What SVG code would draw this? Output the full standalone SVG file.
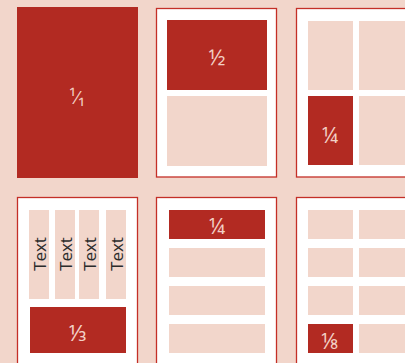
<svg xmlns="http://www.w3.org/2000/svg" width="405" height="363" viewBox="0 0 405 363">
<style>
.page{fill:#fff;stroke:#c42f27;stroke-width:1.3}
.red{fill:#b22a22}
.lt{fill:#f2d6cb}
.frac{font-family:"Open Sans","Noto Sans",sans-serif;font-size:22px;fill:#f2d0c6;text-anchor:middle;dominant-baseline:central}
.sup{font-family:"Open Sans","Noto Sans",sans-serif;font-size:19px;fill:#f2d0c6;text-anchor:middle;dominant-baseline:central}
.txt{font-family:"Open Sans","Noto Sans",sans-serif;font-size:17px;fill:#2b2b2b;text-anchor:middle;dominant-baseline:central}
</style>
<rect width="405" height="363" fill="#f2d6cb"/>
<g id="panel-full">
<rect class="red" x="17" y="7" width="121" height="171"/>
<text class="sup" x="77" y="97">¹⁄₁</text>
</g>
<g id="panel-half">
<rect class="page" x="156.5" y="8.5" width="120" height="168.5"/>
<rect class="red" x="167" y="20" width="100" height="70"/>
<text class="frac" x="217" y="56">½</text>
<rect class="lt" x="167" y="96" width="100" height="70"/>
</g>
<g id="panel-quarter">
<rect class="page" x="296.5" y="8.5" width="120" height="168.5"/>
<rect class="lt" x="308" y="21" width="45" height="69"/>
<rect class="lt" x="359" y="21" width="46" height="69"/>
<rect class="red" x="308" y="96" width="45" height="69"/>
<text class="frac" x="330" y="134">¼</text>
<rect class="lt" x="359" y="96" width="46" height="69"/>
</g>
<g id="panel-third">
<rect class="page" x="17.5" y="197.5" width="120" height="170"/>
<rect class="lt" x="29" y="210" width="20" height="89"/>
<rect class="lt" x="55" y="210" width="20" height="89"/>
<rect class="lt" x="79" y="210" width="20" height="89"/>
<rect class="lt" x="106" y="210" width="20" height="89"/>
<text class="txt" transform="translate(39 254) rotate(-90)">Text</text>
<text class="txt" transform="translate(65 254) rotate(-90)">Text</text>
<text class="txt" transform="translate(89 254) rotate(-90)">Text</text>
<text class="txt" transform="translate(116 254) rotate(-90)">Text</text>
<rect class="red" x="30" y="307" width="96" height="46"/>
<text class="frac" x="78" y="332">⅓</text>
</g>
<g id="panel-quarter-rows">
<rect class="page" x="156.5" y="197.5" width="120" height="170"/>
<rect class="red" x="169" y="210" width="96" height="29"/>
<text class="frac" x="217" y="225">¼</text>
<rect class="lt" x="169" y="248" width="96" height="29"/>
<rect class="lt" x="169" y="286" width="96" height="29"/>
<rect class="lt" x="169" y="324" width="96" height="29"/>
</g>
<g id="panel-eighth">
<rect class="page" x="296.5" y="197.5" width="120" height="170"/>
<rect class="lt" x="308" y="210" width="45" height="29"/>
<rect class="lt" x="359" y="210" width="46" height="29"/>
<rect class="lt" x="308" y="248" width="45" height="29"/>
<rect class="lt" x="359" y="248" width="46" height="29"/>
<rect class="lt" x="308" y="286" width="45" height="29"/>
<rect class="lt" x="359" y="286" width="46" height="29"/>
<rect class="red" x="308" y="324" width="45" height="29"/>
<text class="frac" x="330" y="340">⅛</text>
<rect class="lt" x="359" y="324" width="46" height="29"/>
</g>
</svg>
